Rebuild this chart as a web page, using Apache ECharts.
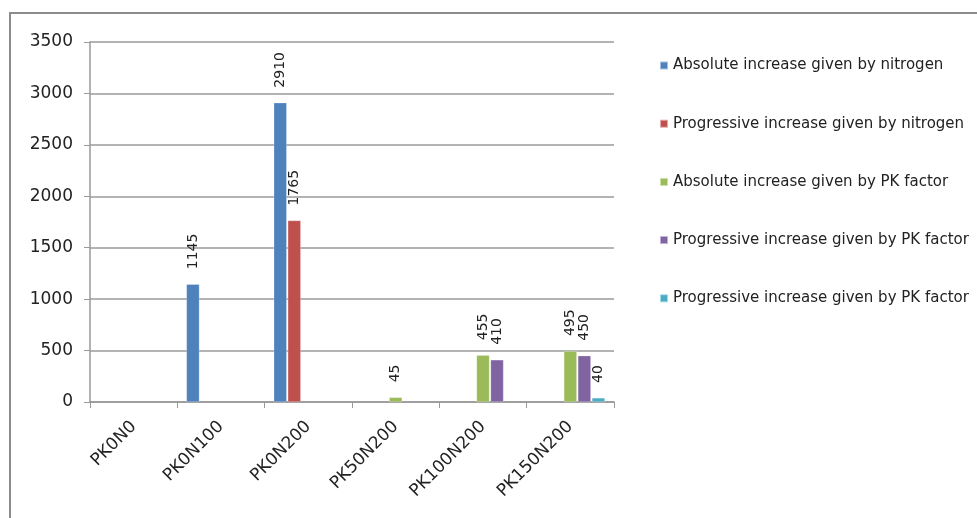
<!DOCTYPE html>
<html>
<head>
<meta charset="utf-8">
<script src="https://cdn.jsdelivr.net/npm/echarts@6/dist/echarts.min.js"></script>
<style>
  html, body { margin: 0; padding: 0; background: #fff; }
  #chart { width: 977px; height: 518px; }
</style>
</head>
<body>
<div id="chart"></div>
<script>
// Treatments on the category axis
const categories = ['PK0N0', 'PK0N100', 'PK0N200', 'PK50N200', 'PK100N200', 'PK150N200'];

// Yield increases per treatment (null = no bar)
const absNitrogen  = [null, 1145, 2910, null, null, null];
const progNitrogen = [null, null, 1765, null, null, null];
const absPK        = [null, null, null, 45, 455, 495];
const progPK       = [null, null, null, null, 410, 450];
const progPK2      = [null, null, null, null, null, 40];

const seriesNames = [
  'Absolute increase given by nitrogen',
  'Progressive increase given by nitrogen',
  'Absolute increase given by PK factor',
  'Progressive increase given by PK factor',
  'Progressive increase given by PK factor '
];
const seriesData = [absNitrogen, progNitrogen, absPK, progPK, progPK2];
const colors = ['#4F81BD', '#C0504D', '#9BBB59', '#8064A2', '#4BACC6'];

const yTicks = { min: 0, max: 3500, interval: 500 };

const font = '"DejaVu Sans", sans-serif';

const chart = echarts.init(document.getElementById('chart'));

const series = seriesData.map((d, i) => ({
  name: seriesNames[i],
  type: 'bar',
  data: d,
  barWidth: 13,
  barGap: '8%',
  itemStyle: { color: colors[i], borderColor: 'rgba(255,255,255,0.5)', borderWidth: 0.5 },
  label: {
    show: true,
    position: 'top',
    rotate: 90,
    align: 'left',
    verticalAlign: 'middle',
    distance: 15,
    color: '#222',
    fontFamily: font,
    fontSize: 14
  }
}));

chart.setOption({
  animation: false,
  color: colors,
  graphic: [{
    type: 'rect',
    shape: { x: 10, y: 13, width: 1100, height: 700 },
    style: { fill: 'none', stroke: '#8c8c8c', lineWidth: 2 },
    silent: true
  }],
  grid: { left: 90, top: 42, width: 524, height: 360, containLabel: false },
  legend: {
    orient: 'vertical',
    left: 654,
    top: 53,
    itemGap: 43.2,
    itemWidth: 8,
    itemHeight: 8,
    icon: 'rect',
    textStyle: { fontFamily: font, fontSize: 15, color: '#222' },
    data: seriesNames
  },
  xAxis: {
    type: 'category',
    data: categories,
    axisLine: { lineStyle: { color: '#999', width: 1.5 } },
    axisTick: { show: true, alignWithLabel: false, length: 6, lineStyle: { color: '#999' } },
    axisLabel: {
      rotate: 45,
      interval: 0,
      margin: 22,
      color: '#222',
      fontFamily: font,
      fontSize: 17
    }
  },
  yAxis: {
    type: 'value',
    min: yTicks.min,
    max: yTicks.max,
    interval: yTicks.interval,
    axisLine: { show: true, lineStyle: { color: '#999', width: 1.5 } },
    axisTick: { show: true, length: 6, lineStyle: { color: '#999' } },
    splitLine: { lineStyle: { color: '#9a9a9a', width: 1.5 } },
    axisLabel: {
      margin: 17,
      color: '#222',
      fontFamily: font,
      fontSize: 17,
      formatter: v => String(v)
    }
  },
  series: series
});
</script>
</body>
</html>
